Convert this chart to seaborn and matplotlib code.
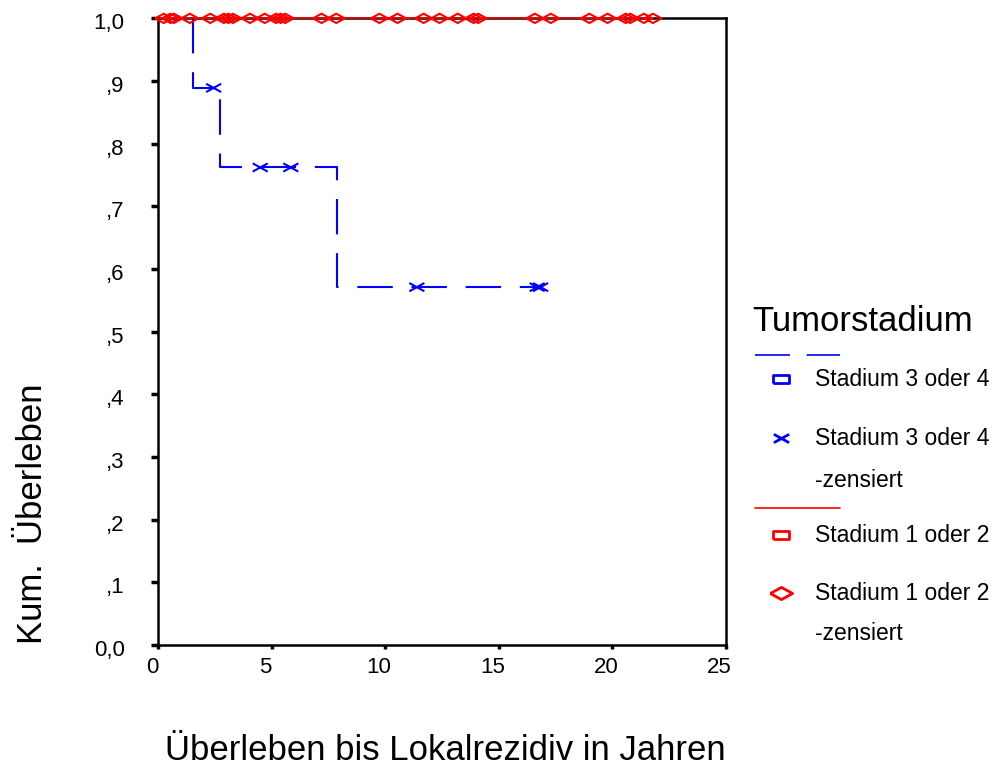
import numpy as np
import pandas as pd
import seaborn as sns
import matplotlib.pyplot as plt
import matplotlib.transforms as mtransforms
from matplotlib.path import Path

# Kaplan-Meier steps
blue_times = [0, 1.55, 2.75, 7.9, 16.85]
blue_surv = [1.0, 0.889, 0.762, 0.571, 0.571]
blue_cens_t = [2.45, 4.5, 5.85, 11.4, 16.7, 16.85]
blue_cens_s = [0.889, 0.762, 0.762, 0.571, 0.571, 0.571]

red_times = [0, 21.8]
red_surv = [1.0, 1.0]
red_cens_t = [0.25, 0.55, 0.7, 1.4, 2.3, 2.9, 3.1, 3.3, 4.05, 4.7, 5.2, 5.4, 5.6,
              7.2, 7.85, 9.75, 10.55, 11.7, 12.4, 13.2, 13.9, 14.1, 16.6, 17.3,
              19.0, 19.8, 20.6, 20.8, 21.4, 21.8]
red_cens_s = [1.0] * len(red_cens_t)

x_ticks = [0, 5, 10, 15, 20, 25]
y_ticks = [0.0, 0.1, 0.2, 0.3, 0.4, 0.5, 0.6, 0.7, 0.8, 0.9, 1.0]
y_labels = ["0,0", ",1", ",2", ",3", ",4", ",5", ",6", ",7", ",8", ",9", "1,0"]

sns.set_style("white")
plt.rcParams['font.family'] = ['Liberation Sans', 'DejaVu Sans']
plt.rcParams['text.color'] = 'black'
plt.rcParams['axes.labelcolor'] = 'black'

# flat SPSS-style markers
diamond = Path([(-1, 0), (0, 0.55), (1, 0), (0, -0.55), (-1, 0)])
cross = Path([(-1, -0.55), (1, 0.55), (-1, 0.55), (1, -0.55)],
             [Path.MOVETO, Path.LINETO, Path.MOVETO, Path.LINETO])
rect = Path([(-1, -0.45), (1, -0.45), (1, 0.45), (-1, 0.45), (-1, -0.45)])

fig = plt.figure(figsize=(9.94, 7.65), dpi=100)
ax = fig.add_axes([0.159, 0.157, 0.571, 0.819])

sns.lineplot(x=blue_times, y=blue_surv, drawstyle='steps-post', color='blue',
             linewidth=1.5, linestyle=(9.2, (17, 9)), ax=ax)
sns.lineplot(x=red_times, y=red_surv, drawstyle='steps-post', color='red',
             linewidth=1.2, ax=ax, clip_on=False, zorder=4)
sns.scatterplot(x=blue_cens_t, y=blue_cens_s, marker=cross, s=117,
                facecolor='none', edgecolor='blue', linewidth=1.5, ax=ax)
sns.scatterplot(x=red_cens_t, y=red_cens_s, marker=diamond, s=150,
                facecolor='none', edgecolor='red', linewidth=1.5, ax=ax,
                clip_on=False, zorder=5)

ax.set_xlim(0, 25)
ax.set_ylim(0, 1)
ax.set_xticks(x_ticks)
ax.set_xticklabels([str(t) for t in x_ticks])
ax.set_yticks(y_ticks)
ax.set_yticklabels(y_labels)
for sp in ax.spines.values():
    sp.set_color('black')
    sp.set_linewidth(1.8)
ax.tick_params(axis='y', direction='out', length=5, width=2.5, left=True,
               labelsize=16, pad=19, colors='black')
ax.tick_params(axis='x', direction='out', length=3, width=2.5, bottom=True,
               labelsize=16, pad=6, colors='black')

# SPSS draws the tick labels slightly off their ticks
shift_x = mtransforms.ScaledTranslation(-6 / 100, 0, fig.dpi_scale_trans)
for lab in ax.get_xticklabels():
    lab.set_transform(lab.get_transform() + shift_x)
shift_y = mtransforms.ScaledTranslation(0, -3 / 100, fig.dpi_scale_trans)
for lab in ax.get_yticklabels():
    lab.set_transform(lab.get_transform() + shift_y)

ax.set_xlabel("Überleben bis Lokalrezidiv in Jahren", fontsize=25, va='center')
ax.set_ylabel("Kum.  Überleben", fontsize=25, va='center')
ax.xaxis.set_label_coords(0.506, -0.168)
ax.yaxis.set_label_coords(-0.222, 0.21)

# legend drawn SPSS-style in figure pixel space
lax = fig.add_axes([0, 0, 1, 1])
lax.set_xlim(0, 994)
lax.set_ylim(765, 0)
lax.axis('off')
lax.text(752, 321, "Tumorstadium", fontsize=25, va='center', ha='left')
lax.plot([755, 840], [355, 355], color='blue', linewidth=1.2,
         linestyle=(0, (21, 10)))
lax.plot([755, 840], [508, 508], color='red', linewidth=1.2)
lax.plot([781], [379], marker=rect, markersize=12, color='blue',
         markerfacecolor='none', markeredgewidth=2, linestyle='none')
lax.plot([781], [438], marker=cross, markersize=11, color='blue',
         markeredgewidth=2, linestyle='none')
lax.plot([781], [535], marker=rect, markersize=12, color='red',
         markerfacecolor='none', markeredgewidth=2, linestyle='none')
lax.plot([781], [593], marker=diamond, markersize=16, color='red',
         markerfacecolor='none', markeredgewidth=2, linestyle='none')
for txt, yy in [("Stadium 3 oder 4", 379), ("Stadium 3 oder 4", 438),
                ("-zensiert", 480), ("Stadium 1 oder 2", 535),
                ("Stadium 1 oder 2", 593), ("-zensiert", 633)]:
    lax.text(815, yy, txt, fontsize=16.5, va='center', ha='left')

fig.savefig("out.png", dpi=100)
